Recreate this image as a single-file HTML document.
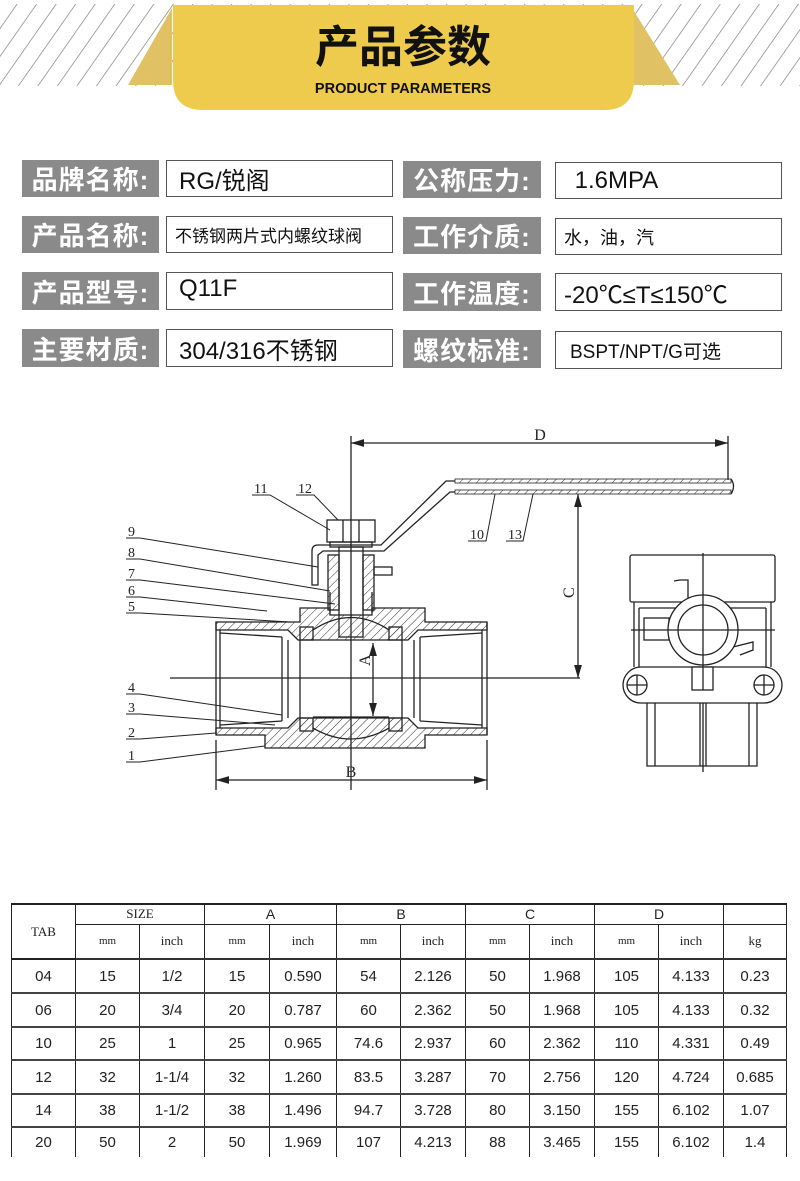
<!DOCTYPE html>
<html><head><meta charset="utf-8"><style>
*{margin:0;padding:0;box-sizing:border-box}
body{width:800px;height:1181px;background:#fff;position:relative;overflow:hidden;font-family:"Liberation Sans","Noto Sans CJK SC",sans-serif}
.a{position:absolute}
.lab{position:absolute;background:#8a8a8a;color:#fff;font-size:26px;font-weight:bold;display:flex;align-items:center;justify-content:center;letter-spacing:1px}
.val{position:absolute;border:1.5px solid #555;background:#fff;color:#111;font-size:24px;display:flex;align-items:center;padding-left:12px}
table{position:absolute;left:11px;top:903px;border-collapse:collapse;font-family:"Liberation Sans",sans-serif;font-size:15px;color:#222}
td{border-left:1.5px solid #222;border-right:1.5px solid #222;text-align:center;padding:0}
.h td{font-family:"Liberation Serif",serif;font-size:13px}
</style></head><body>
<svg class="a" style="left:0;top:0" width="800" height="120">
<defs><pattern id="st" width="16" height="16" patternUnits="userSpaceOnUse" patternTransform="rotate(35)"><line x1="0" y1="0" x2="0" y2="16" stroke="#777" stroke-width="1.3"/></pattern></defs>
<rect x="0" y="4" width="800" height="82" fill="url(#st)"/>
<polygon points="128,85 172,8 172,85" fill="#e0c163"/>
<polygon points="680,85 632,8 632,85" fill="#e0c163"/>
<path d="M173,5 H634 V80 Q634,110 604,110 H203 Q173,110 173,80 Z" fill="#eecb4c"/>
<text x="403" y="62" text-anchor="middle" font-family="Noto Sans CJK SC,sans-serif" font-weight="bold" font-size="44" fill="#111">产品参数</text>
<text x="403" y="93" text-anchor="middle" font-family="Liberation Sans,sans-serif" font-weight="bold" font-size="14.5" fill="#111">PRODUCT PARAMETERS</text>
</svg>

<div class="lab" style="left:22px;top:160px;width:137px;height:37px">品牌名称:</div>
<div class="val" style="left:166px;top:160px;width:227px;height:37px">RG/锐阁</div>
<div class="lab" style="left:403px;top:161px;width:138px;height:37px">公称压力:</div>
<div class="val" style="left:555px;top:162px;width:227px;height:37px">&nbsp;1.6MPA</div>

<div class="lab" style="left:22px;top:216px;width:137px;height:37px">产品名称:</div>
<div class="val" style="left:166px;top:216px;width:227px;height:37px;font-size:17px;padding-left:8px">不锈钢两片式内螺纹球阀</div>
<div class="lab" style="left:403px;top:217px;width:138px;height:37px">工作介质:</div>
<div class="val" style="left:555px;top:218px;width:227px;height:37px;font-size:18px;padding-left:8px">水，油，汽</div>

<div class="lab" style="left:22px;top:272px;width:137px;height:38px">产品型号:</div>
<div class="val" style="left:166px;top:272px;width:227px;height:38px;align-items:flex-start;padding-top:2px">Q11F</div>
<div class="lab" style="left:403px;top:273px;width:138px;height:38px">工作温度:</div>
<div class="val" style="left:555px;top:273px;width:227px;height:38px;padding-left:8px">-20℃≤T≤150℃</div>

<div class="lab" style="left:22px;top:329px;width:137px;height:38px">主要材质:</div>
<div class="val" style="left:166px;top:329px;width:227px;height:38px">304/316不锈钢</div>
<div class="lab" style="left:403px;top:330px;width:138px;height:38px">螺纹标准:</div>
<div class="val" style="left:555px;top:331px;width:227px;height:38px;font-size:19px;padding-left:14px">BSPT/NPT/G可选</div>

<svg class="a" style="left:0;top:400px" width="800" height="420" viewBox="0 400 800 420" fill="none" stroke="#222" stroke-width="1.3" font-family="Liberation Serif,serif">
<defs>
<pattern id="h" width="6" height="6" patternUnits="userSpaceOnUse" patternTransform="rotate(45)"><line x1="0" y1="0" x2="0" y2="6" stroke="#333" stroke-width="1"/></pattern>
<marker id="ar" markerWidth="10" markerHeight="6" refX="10" refY="3" orient="auto-start-reverse"><path d="M0,0 L10,3 L0,6Z" fill="#222" stroke="none"/></marker>
</defs>
<!-- D dimension -->
<line x1="351" y1="443" x2="728" y2="443" marker-start="url(#ar)" marker-end="url(#ar)"/>
<line x1="728" y1="436" x2="728" y2="480"/>
<text x="540" y="440" font-size="16" fill="#222" stroke="none" text-anchor="middle">D</text>
<!-- centerline -->
<line x1="351" y1="436" x2="351" y2="790"/>
<!-- handle -->
<rect x="455" y="479" width="276" height="4" fill="url(#h)" stroke="#222" stroke-width="0.8"/>
<rect x="455" y="490" width="276" height="4" fill="url(#h)" stroke="#222" stroke-width="0.8"/>
<path d="M731,479 Q736,486 731,494"/>
<path d="M455,481 L446,481 L381,545 L318,545 Q312,545 312,551 L312,585 L318,585 L318,555 L323,551 L384,551 L450,492 L455,492"/>
<!-- nut -->
<rect x="327" y="520" width="48" height="22"/>
<line x1="343" y1="520" x2="343" y2="542"/><line x1="359" y1="520" x2="359" y2="542"/>
<rect x="330" y="542" width="42" height="5"/>
<!-- stem & packing -->
<rect x="339" y="547" width="24" height="90"/>
<rect x="328" y="555" width="11" height="55" fill="url(#h)"/>
<rect x="363" y="555" width="11" height="55" fill="url(#h)"/>
<rect x="374" y="567" width="18" height="8"/>
<path d="M330,612 L330,592 M372,612 L372,592"/>
<!-- body hatched -->
<path d="M216,622 L300,622 L300,608 L330,608 L330,615 L372,615 L372,608 L425,608 L425,622 L487,622 L487,630 L418,630 L408,640 L298,640 L288,630 L216,630 Z" fill="url(#h)"/>
<path d="M216,735 L265,735 L265,748 L425,748 L425,735 L487,735 L487,728 L418,728 L408,718 L298,718 L288,728 L216,728 Z" fill="url(#h)"/>
<!-- pipe ends & bore -->
<line x1="216" y1="622" x2="216" y2="735"/><line x1="220" y1="630" x2="220" y2="728"/>
<line x1="487" y1="622" x2="487" y2="735"/><line x1="482" y1="630" x2="482" y2="728"/>
<line x1="220" y1="633" x2="282" y2="637"/><line x1="220" y1="725" x2="282" y2="721"/>
<line x1="482" y1="633" x2="420" y2="637"/><line x1="482" y1="725" x2="420" y2="721"/>
<line x1="282" y1="637" x2="282" y2="721"/><line x1="288" y1="640" x2="288" y2="718"/>
<line x1="420" y1="637" x2="420" y2="721"/><line x1="414" y1="640" x2="414" y2="718"/>
<line x1="300" y1="640" x2="300" y2="718"/><line x1="402" y1="640" x2="402" y2="718"/>
<!-- seats -->
<rect x="300" y="627" width="13" height="13" fill="url(#h)"/>
<rect x="389" y="627" width="13" height="13" fill="url(#h)"/>
<rect x="300" y="718" width="13" height="13" fill="url(#h)"/>
<rect x="389" y="718" width="13" height="13" fill="url(#h)"/>
<path d="M313,630 Q351,605 389,630"/>
<path d="M313,728 Q351,750 389,728"/>
<line x1="313" y1="717" x2="389" y2="717"/>
<!-- A dim -->
<line x1="373" y1="643" x2="373" y2="716" marker-start="url(#ar)" marker-end="url(#ar)"/>
<text x="0" y="0" font-size="16" fill="#222" stroke="none" transform="translate(370,666) rotate(-90)">A</text>
<!-- horizontal centerline -->
<line x1="170" y1="678" x2="580" y2="678"/>
<!-- C dim -->
<line x1="578" y1="494" x2="578" y2="678" marker-start="url(#ar)" marker-end="url(#ar)"/>
<text x="0" y="0" font-size="16" fill="#222" stroke="none" transform="translate(574,598) rotate(-90)">C</text>
<!-- B dim -->
<line x1="216" y1="740" x2="216" y2="790"/><line x1="487" y1="740" x2="487" y2="790"/>
<line x1="216" y1="780" x2="487" y2="780" marker-start="url(#ar)" marker-end="url(#ar)"/>
<text x="351" y="777" font-size="16" fill="#222" stroke="none" text-anchor="middle">B</text>
<!-- leaders -->
<g font-size="14" fill="#222" stroke="none">
<text x="128" y="536">9</text><text x="128" y="557">8</text><text x="128" y="578">7</text><text x="128" y="595">6</text><text x="128" y="611">5</text>
<text x="128" y="692">4</text><text x="128" y="712">3</text><text x="128" y="737">2</text><text x="128" y="760">1</text>
<text x="254" y="493">11</text><text x="298" y="493">12</text>
<text x="470" y="539">10</text><text x="508" y="539">13</text>
</g>
<g stroke-width="1">
<path d="M126,538 H140 L318,567"/><path d="M126,559 H140 L330,591"/><path d="M126,580 H140 L335,604"/>
<path d="M126,597 H140 L267,611"/><path d="M126,613 H140 L290,622"/>
<path d="M126,694 H140 L282,715"/><path d="M126,714 H140 L275,725"/><path d="M126,739 H140 L216,733"/><path d="M126,762 H140 L265,746"/>
<path d="M252,495 H270 L330,530"/><path d="M296,495 H314 L338,520"/>
<path d="M468,541 H486 L495,494"/><path d="M506,541 H523 L533,494"/>
</g>
<!-- side view -->
<rect x="630" y="555" width="145" height="47" rx="2"/>
<path d="M634,602 V667 M771,602 V667 M639,608 H766 M639,608 V667 M766,608 V667"/>
<rect x="644" y="618" width="25" height="22"/>
<path d="M674,581 L680,580 L688,580 L688,600 L676,618"/>
<path d="M733,647 L753,642 L753,650 L740,655"/>
<circle cx="703" cy="630" r="35" fill="#fff"/>
<circle cx="703" cy="630" r="25"/>
<line x1="703" y1="553" x2="703" y2="772"/>
<line x1="631" y1="630" x2="775" y2="630"/>
<rect x="623" y="667" width="159" height="36" rx="18" fill="#fff"/>
<circle cx="637" cy="685" r="10"/><circle cx="764" cy="685" r="10"/>
<path d="M627,685 H647 M637,675 V695 M754,685 H774 M764,675 V695"/>
<rect x="692" y="667" width="21" height="23" fill="#fff"/>
<line x1="703" y1="667" x2="703" y2="690"/>
<path d="M647,703 V766 H757 V703 M655,703 V766 M749,703 V766 M700,703 V766 M706,703 V766"/>
</svg>

<table>
<colgroup><col style="width:64px"><col style="width:64px"><col style="width:65px"><col style="width:65px"><col style="width:67px"><col style="width:64px"><col style="width:65px"><col style="width:64px"><col style="width:65px"><col style="width:64px"><col style="width:65px"><col style="width:63px"></colgroup>
<tr class="h" style="height:20px;border-top:2px solid #222"><td rowspan="2" style="border-bottom:2px solid #222">TAB</td><td colspan="2" style="border-bottom:1.5px solid #222">SIZE</td><td colspan="2" style="border-bottom:1.5px solid #222;font-family:'Liberation Sans',sans-serif;font-size:14px">A</td><td colspan="2" style="border-bottom:1.5px solid #222;font-family:'Liberation Sans',sans-serif;font-size:14px">B</td><td colspan="2" style="border-bottom:1.5px solid #222;font-family:'Liberation Sans',sans-serif;font-size:14px">C</td><td colspan="2" style="border-bottom:1.5px solid #222;font-family:'Liberation Sans',sans-serif;font-size:14px">D</td><td style="border-bottom:1.5px solid #222"></td></tr>
<tr class="h" style="height:35px;border-bottom:2.5px solid #333"><td style="font-size:11px">mm</td><td>inch</td><td style="font-size:11px">mm</td><td>inch</td><td style="font-size:11px">mm</td><td>inch</td><td style="font-size:11px">mm</td><td>inch</td><td style="font-size:11px">mm</td><td>inch</td><td>kg</td></tr>
<tr style="height:34px;border-bottom:2.5px solid #444"><td>04</td><td>15</td><td>1/2</td><td>15</td><td>0.590</td><td>54</td><td>2.126</td><td>50</td><td>1.968</td><td>105</td><td>4.133</td><td>0.23</td></tr>
<tr style="height:34px;border-bottom:2.5px solid #444"><td>06</td><td>20</td><td>3/4</td><td>20</td><td>0.787</td><td>60</td><td>2.362</td><td>50</td><td>1.968</td><td>105</td><td>4.133</td><td>0.32</td></tr>
<tr style="height:33px;border-bottom:2.5px solid #444"><td>10</td><td>25</td><td>1</td><td>25</td><td>0.965</td><td>74.6</td><td>2.937</td><td>60</td><td>2.362</td><td>110</td><td>4.331</td><td>0.49</td></tr>
<tr style="height:34px;border-bottom:2.5px solid #444"><td>12</td><td>32</td><td>1-1/4</td><td>32</td><td>1.260</td><td>83.5</td><td>3.287</td><td>70</td><td>2.756</td><td>120</td><td>4.724</td><td>0.685</td></tr>
<tr style="height:33px;border-bottom:2.5px solid #444"><td>14</td><td>38</td><td>1-1/2</td><td>38</td><td>1.496</td><td>94.7</td><td>3.728</td><td>80</td><td>3.150</td><td>155</td><td>6.102</td><td>1.07</td></tr>
<tr style="height:30px"><td>20</td><td>50</td><td>2</td><td>50</td><td>1.969</td><td>107</td><td>4.213</td><td>88</td><td>3.465</td><td>155</td><td>6.102</td><td>1.4</td></tr>
</table>
</body></html>
